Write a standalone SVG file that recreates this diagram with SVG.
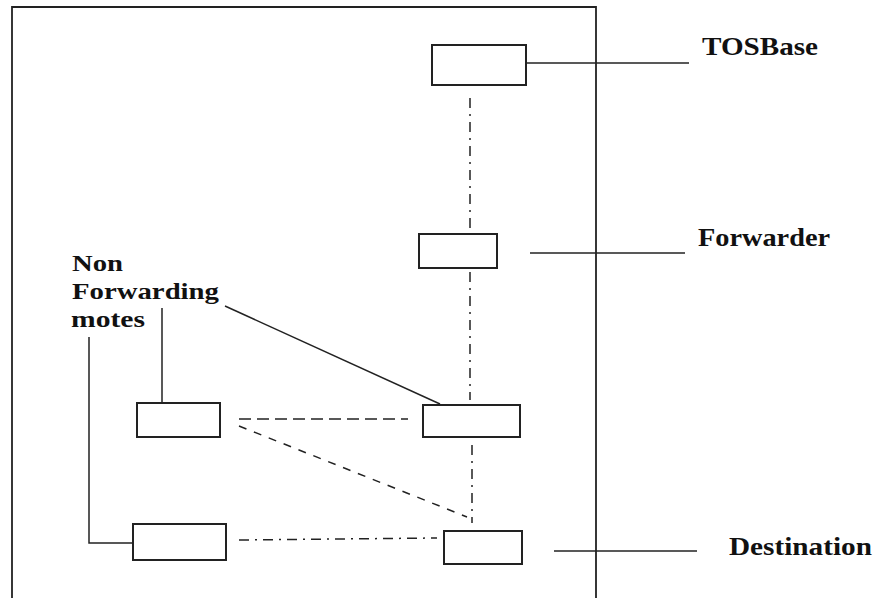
<svg xmlns="http://www.w3.org/2000/svg" width="893" height="598" viewBox="0 0 893 598">
  <style>
    .node { fill: #ffffff; stroke: #222222; stroke-width: 2; }
    .lead { fill: none; stroke: #222222; stroke-width: 1.5; }
    .link { fill: none; stroke: #222222; stroke-width: 1.5; }
    .dashdot { stroke-dasharray: 10 6 2 6; }
    .dash { stroke-dasharray: 12 6; }
    .dashshort { stroke-dasharray: 8 8; }
    .label { font-family: "Liberation Serif", "Times New Roman", serif; font-weight: bold; font-size: 26px; fill: #111111; }
    .label-sm { font-size: 24px; }
  </style>

  <rect width="893" height="598" fill="#ffffff"/>

  <!-- outer frame -->
  <path d="M12,610 V7 H596 V610" fill="none" stroke="#222222" stroke-width="1.8"/>

  <!-- connectors -->
  <g id="connectors">
    <!-- radio links between motes -->
    <path class="link dashdot" d="M470,98 V232"/>
    <path class="link dashdot" d="M470,272 V400"/>
    <path class="link dashdot" d="M472,445 V523"/>
    <path class="link dash" d="M239,419 H408"/>
    <path class="link dashshort" d="M239,426 L467,517"/>
    <path class="link dashdot" d="M239,540 L338,539 L437,538"/>
    <!-- label leader lines -->
    <path class="lead" d="M526,63 H689"/>
    <path class="lead" d="M530,253 H685"/>
    <path class="lead" d="M554,551 H697"/>
    <path class="lead" d="M225,306 L440,404"/>
    <path class="lead" d="M162,308 V403"/>
    <path class="lead" d="M89,337 V543 H133"/>
  </g>

  <!-- motes -->
  <g id="tosbase"><rect class="node" x="432" y="45" width="94" height="40"/></g>
  <g id="forwarder"><rect class="node" x="419" y="234" width="78" height="34"/></g>
  <g id="mote-left-upper"><rect class="node" x="137" y="403" width="83" height="34"/></g>
  <g id="mote-relay"><rect class="node" x="423" y="405" width="97" height="32"/></g>
  <g id="mote-left-lower"><rect class="node" x="133" y="524" width="93" height="36"/></g>
  <g id="destination"><rect class="node" x="444" y="531" width="78" height="33"/></g>

  <!-- labels -->
  <g id="labels">
    <text class="label" x="702" y="55" textLength="116" lengthAdjust="spacingAndGlyphs">TOSBase</text>
    <text class="label" x="698" y="246" textLength="132" lengthAdjust="spacingAndGlyphs">Forwarder</text>
    <text class="label" x="729" y="555" textLength="143" lengthAdjust="spacingAndGlyphs">Destination</text>
    <text class="label label-sm" x="72" y="271" textLength="51" lengthAdjust="spacingAndGlyphs">Non</text>
    <text class="label label-sm" x="72" y="299" textLength="147" lengthAdjust="spacingAndGlyphs">Forwarding</text>
    <text class="label label-sm" x="71" y="327" textLength="74" lengthAdjust="spacingAndGlyphs">motes</text>
  </g>
</svg>
